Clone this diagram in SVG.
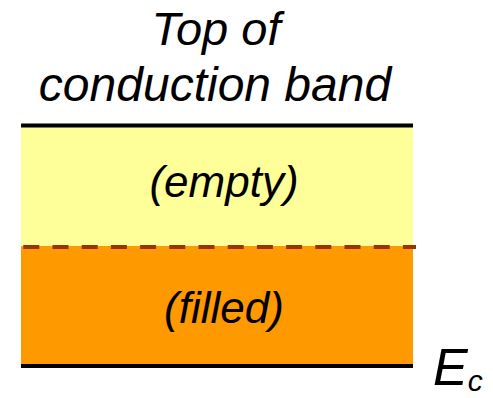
<svg xmlns="http://www.w3.org/2000/svg" width="493" height="398" viewBox="0 0 493 398">
<style>
.t{font-family:"Liberation Sans",Arial,sans-serif;font-style:italic;fill:#000;text-anchor:middle}
.edge{stroke:#000;stroke-width:4;fill:none}
</style>
<rect width="493" height="398" fill="#fff"/>
<g id="title">
<text class="t" x="216" y="45" font-size="47">Top of</text>
<text class="t" x="215" y="101" font-size="48">conduction band</text>
</g>
<g id="empty-band">
<rect x="21" y="126" width="392" height="121" fill="#FFFF99"/>
<text class="t" x="224" y="197" font-size="44">(empty)</text>
</g>
<g id="filled-band">
<rect x="21" y="246" width="392" height="120" fill="#FF9900"/>
<text class="t" x="224" y="323" font-size="44">(filled)</text>
</g>
<g id="connectors">
<line class="edge" x1="21" y1="125.5" x2="413" y2="125.5"/>
<line class="edge" x1="21" y1="366" x2="413" y2="366"/>
<line x1="23.3" y1="247" x2="416" y2="247" stroke="#993300" stroke-width="4" stroke-dasharray="16 13.2"/>
</g>
<g id="ec-label">
<text font-family="Liberation Sans,Arial,sans-serif" font-style="italic" font-size="52" x="433" y="384.5">E<tspan font-size="30" y="391">c</tspan></text>
</g>
</svg>
